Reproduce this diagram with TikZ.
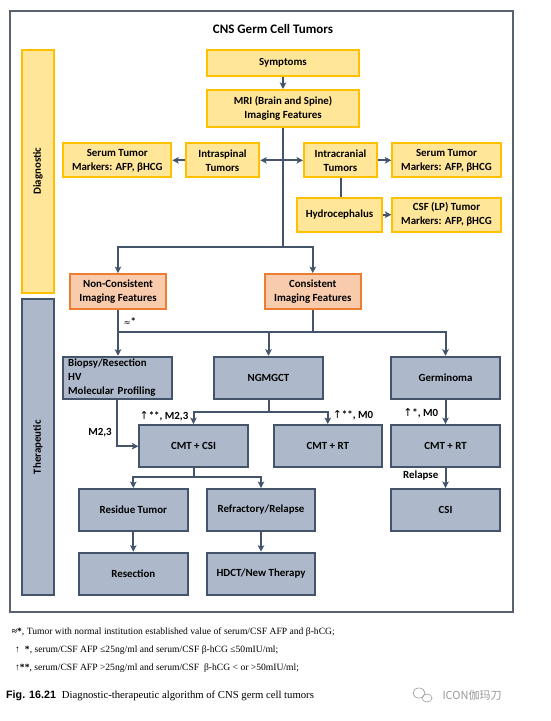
\documentclass[tikz,border=0pt]{standalone}
\usepackage{fontspec}
\setmainfont{Liberation Serif}
\newfontfamily\boxfont{Carlito}
\newfontfamily\djvfont{DejaVu Sans}
\newfontfamily\figfont{Liberation Sans}
\newfontfamily\cjkfont{Noto Sans CJK SC}
\usetikzlibrary{arrows.meta}
\definecolor{ylfill}{HTML}{FFE699}
\definecolor{yldraw}{HTML}{FFC000}
\definecolor{gyfill}{HTML}{ADB9CA}
\definecolor{gydraw}{HTML}{44546A}
\definecolor{orfill}{HTML}{F8CBAD}
\definecolor{ordraw}{HTML}{ED7D31}
\definecolor{lnc}{HTML}{44546A}
\definecolor{framec}{HTML}{5A6270}
\begin{document}
\begin{tikzpicture}[x=1pt,y=-1pt,
 base/.style={rectangle, line width=1.9pt, font=\boxfont\bfseries\fontsize{10.9}{14}\selectfont, align=center, inner sep=2pt},
 ybox/.style={base, fill=ylfill, draw=yldraw},
 obox/.style={base, fill=orfill, draw=ordraw},
 gbox/.style={base, fill=gyfill, draw=gydraw},
 wh/.style 2 args={minimum width=#1pt, minimum height=#2pt},
 conn/.style={draw=lnc, line width=2pt},
 arr/.style={conn, -{Stealth[length=6.5pt,width=6.5pt,inset=1.5pt]}},
 lbl/.style={font=\boxfont\bfseries\fontsize{10.9}{12}\selectfont, inner sep=0pt},
 fn/.style={font=\fontsize{9.6}{11}\selectfont, anchor=base west, inner sep=0pt}
]
\useasboundingbox (0,0) rectangle (551,721);
\fill[white] (0,0) rectangle (551,721);
\draw[framec, line width=2pt] (10,11) rectangle (513,612);
\node[lbl, font=\boxfont\bfseries\fontsize{13}{14}\selectfont] (title) at (273,29) {CNS Germ Cell Tumors};

% side bars
\node[ybox, wh={32}{242.7}] (diag) at (38,171.3) {};
\node[rotate=90, lbl] (diagt) at (diag.center) {Diagnostic};
\node[gbox, wh={32}{295.7}] (ther) at (38,447.2) {};
\node[rotate=90, lbl] (thert) at (ther.center) {Therapeutic};

% diagnostic boxes
\node[ybox, wh={152.6}{26}] (sym) at (283,63) {Symptoms};
\node[ybox, wh={152.6}{36.7}] (mri) at (283,108.3) {MRI (Brain and Spine)\\Imaging Features};
\node[ybox, wh={73.6}{34}] (intrasp) at (222.5,160.3) {Intraspinal\\Tumors};
\node[ybox, wh={108}{34}] (serl) at (117.3,160.3) {Serum Tumor\\Markers: AFP, βHCG};
\node[ybox, wh={73}{34}] (intracr) at (340.5,160.3) {Intracranial\\Tumors};
\node[ybox, wh={108.4}{34}] (serr) at (446.5,160.3) {Serum Tumor\\Markers: AFP, βHCG};
\node[ybox, wh={85.6}{34}] (hydro) at (339.5,214.7) {Hydrocephalus};
\node[ybox, wh={108.4}{34}] (csf) at (446.5,214.7) {CSF (LP) Tumor\\Markers: AFP, βHCG};

\node[obox, wh={96}{35.3}] (noncons) at (118,291.7) {Non-Consistent\\Imaging Features};
\node[obox, wh={95.7}{35.3}] (cons) at (312.8,291.7) {Consistent\\Imaging Features};

% therapeutic boxes
\node[gbox, wh={109}{42}, align=left, text width=98pt, inner xsep=5.5pt] (biopsy) at (117.2,377.7) {Biopsy/Resection\\HV\\Molecular Profiling};
\node[gbox, wh={108.4}{42}] (ngm) at (268.5,377.7) {NGMGCT};
\node[gbox, wh={109}{42}] (germ) at (445.5,377.7) {Germinoma};
\node[gbox, wh={108.4}{42.3}] (csi1) at (193.5,446.2) {CMT + CSI};
\node[gbox, wh={107.7}{42.3}] (rt1) at (327.8,446.2) {CMT + RT};
\node[gbox, wh={109}{42.3}] (rt2) at (445.5,446.2) {CMT + RT};
\node[gbox, wh={108.7}{42}] (resid) at (133.3,510) {Residue Tumor};
\node[gbox, wh={108.6}{42}] (refr) at (261,510) {Refractory/Relapse};
\node[gbox, wh={109}{42}] (csi2) at (445.5,510) {CSI};
\node[gbox, wh={108.7}{42.3}] (resec) at (133.3,573.8) {Resection};
\node[gbox, wh={108.6}{42.3}] (hdct) at (261,573.8) {HDCT/New Therapy};

% connectors
\draw[arr] (sym) -- (mri);
\coordinate (jA) at (283,247);
\draw[conn] (mri.south) -- (jA);
\draw[arr] (jA) -| (noncons.north);
\draw[arr] (jA) -| (cons.north);
\coordinate (jB) at (283,160.3);
\draw[arr] (jB) -- (intrasp.east);
\draw[arr] (jB) -- (intracr.west);
\draw[arr] (intrasp.west) -- (serl.east);
\draw[arr] (intracr.east) -- (serr.west);
\draw[conn] (intracr.south) -- (intracr.south |- hydro.north);
\draw[arr] (hydro.east) -- (csf.west);
\draw[arr] (noncons.south) -- (noncons.south |- biopsy.north);
\coordinate (jC) at (312.8,332.3);
\draw[conn] (cons.south) -- (jC) -- (noncons.south |- jC);
\draw[arr] (jC) -| (ngm.north);
\draw[arr] (jC) -| (germ.north);
\draw[arr] (biopsy.south) |- (csi1.west);
\coordinate (jD) at (268.5,411.7);
\draw[conn] (ngm.south) -- (jD);
\draw[arr] (jD) -| (csi1.north);
\draw[arr] (jD) -| (rt1.north);
\draw[arr] (germ) -- (rt2);
\draw[arr] (rt2) -- (csi2);
\coordinate (jE) at (193.5,477.3);
\draw[conn] (csi1.south) -- (jE);
\draw[arr] (jE) -| (resid.north);
\draw[arr] (jE) -| (refr.north);
\draw[arr] (resid) -- (resec);
\draw[arr] (refr) -- (hdct);

% labels
\node[lbl] (l1) at (130,322) {{\djvfont\mdseries\fontsize{8}{9}\selectfont ≈}*};
\node[lbl] (l2) at (100,432.7) {M2,3};
\node[lbl] (l3) at (164,416) {{\djvfont\mdseries ↑}**, M2,3};
\node[lbl] (l4) at (353,415) {{\djvfont\mdseries ↑}**, M0};
\node[lbl] (l5) at (420.7,413) {{\djvfont\mdseries ↑}*, M0};
\node[lbl] (l6) at (420.7,476) {Relapse};

% footnotes
\node[fn] (f1) at (11.7,634.5) {\textbf{≈*}, Tumor with normal institution established value of serum/CSF AFP and β-hCG;};
\node[fn] (f2) at (15,652.5) {↑\hspace{5pt}\textbf{*}, serum/CSF AFP ≤25ng/ml and serum/CSF β-hCG ≤50mIU/ml;};
\node[fn] (f3) at (15,670.5) {↑\textbf{**}, serum/CSF AFP >25ng/ml and serum/CSF \ β-hCG < or >50mIU/ml;};
\node[anchor=base west, inner sep=0pt, font=\fontsize{10.7}{12}\selectfont] (cap) at (6,698.5) {{\figfont\bfseries Fig. 16.21}\hspace{6pt}Diagnostic-therapeutic algorithm of CNS germ cell tumors};

% watermark
\draw[black!35, line width=0.7pt] (419,693) ellipse (6pt and 5pt);
\draw[black!35, line width=0.7pt] (427,698) ellipse (5pt and 4pt);
\node[font=\cjkfont\fontsize{11}{12}\selectfont, text=black!40, inner sep=0pt] (wm) at (472,695) {ICON伽玛刀};
\end{tikzpicture}
\end{document}
